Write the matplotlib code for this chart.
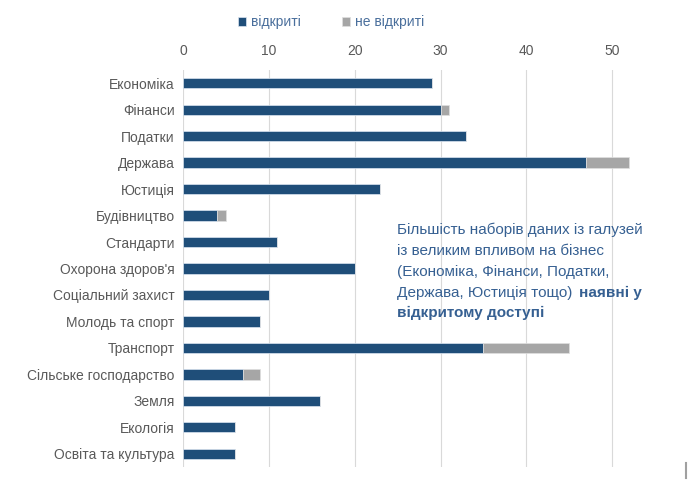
import matplotlib
matplotlib.use("Agg")
import matplotlib.pyplot as plt
from matplotlib.lines import Line2D

categories = ["Економіка", "Фінанси", "Податки", "Держава", "Юстиція", "Будівництво",
              "Стандарти", "Охорона здоров'я", "Соціальний захист", "Молодь та спорт",
              "Транспорт", "Сільське господарство", "Земля", "Екологія", "Освіта та культура"]
open_vals = [29, 30, 33, 47, 23, 4, 11, 20, 10, 9, 35, 7, 16, 6, 6]
closed_vals = [0, 1, 0, 5, 0, 1, 0, 0, 0, 0, 10, 2, 0, 0, 0]
series_names = ["відкриті", "не відкриті"]
x_ticks = [0, 10, 20, 30, 40, 50]

plt.rcParams["font.family"] = ["Liberation Sans", "DejaVu Sans"]

BLUE = "#1f4e79"
GREY = "#a6a6a6"
TXT = "#595959"

fig = plt.figure(figsize=(6.9, 4.8), dpi=100)
W, H = 690, 480
x0, x60 = 183, 698
ytop, ybot = 70, 467
ax = fig.add_axes([x0 / W, 1 - ybot / H, (x60 - x0) / W, (ybot - ytop) / H])

y = list(range(len(categories)))
b1 = ax.barh(y, open_vals, height=0.39, color=BLUE, edgecolor="#dbe5f1", linewidth=0.5,
             label=series_names[0], zorder=3)
b2 = ax.barh(y, closed_vals, left=open_vals, height=0.39, color=GREY, edgecolor="#e0e0e0",
             linewidth=0.5, label=series_names[1], zorder=3)

ax.set_xlim(0, 60)
ax.set_ylim(len(categories) - 0.5, -0.5)
ax.set_yticks(y)
ax.set_yticklabels(categories, fontsize=10, color=TXT)
ax.set_xticks(x_ticks)
ax.set_xticklabels([str(v) for v in x_ticks], fontsize=10, color=TXT)
ax.xaxis.tick_top()
ax.tick_params(axis="x", length=0, pad=8.5)
ax.tick_params(axis="y", length=0, pad=6)
ax.grid(axis="x", color="#d9d9d9", linewidth=0.8, zorder=0)
# gridline at 60 (beyond figure edge, kept for consistency)
for s in ax.spines.values():
    s.set_visible(False)

leg = fig.legend(handles=[b1, b2], labels=series_names, loc="center left",
                 bbox_to_anchor=(238 / W, 1 - 22 / H), ncol=2, frameon=False,
                 fontsize=10, handlelength=0.6, handleheight=0.6, handletextpad=0.3,
                 columnspacing=3.0, labelcolor="#4a6f9c", borderaxespad=0, borderpad=0)

note_color = "#366092"
fs = 11
lines = ["Більшість наборів даних із галузей",
         "із великим впливом на бізнес",
         "(Економіка, Фінанси, Податки,",
         "Держава, Юстиція тощо)"]
ys = [230, 251, 272, 293]
texts = []
for t, yy in zip(lines, ys):
    texts.append(fig.text(397 / W, 1 - yy / H, t, fontsize=fs, color=note_color,
                          va="center", ha="left"))
fig.canvas.draw()
bb = texts[-1].get_window_extent(renderer=fig.canvas.get_renderer())
fig.text((bb.x1 + 7) / W, 1 - 293 / H, "наявні у", fontsize=fs, color=note_color,
         va="center", ha="left", fontweight="bold")
fig.text(397 / W, 1 - 313 / H, "відкритому доступі", fontsize=fs, color=note_color,
         va="center", ha="left", fontweight="bold")

fig.add_artist(Line2D([686 / W, 686 / W], [1 - 478 / H, 1 - 463 / H], color="#a0a0a0",
                      linewidth=1.5, transform=fig.transFigure))

fig.savefig("out.png", dpi=100)
